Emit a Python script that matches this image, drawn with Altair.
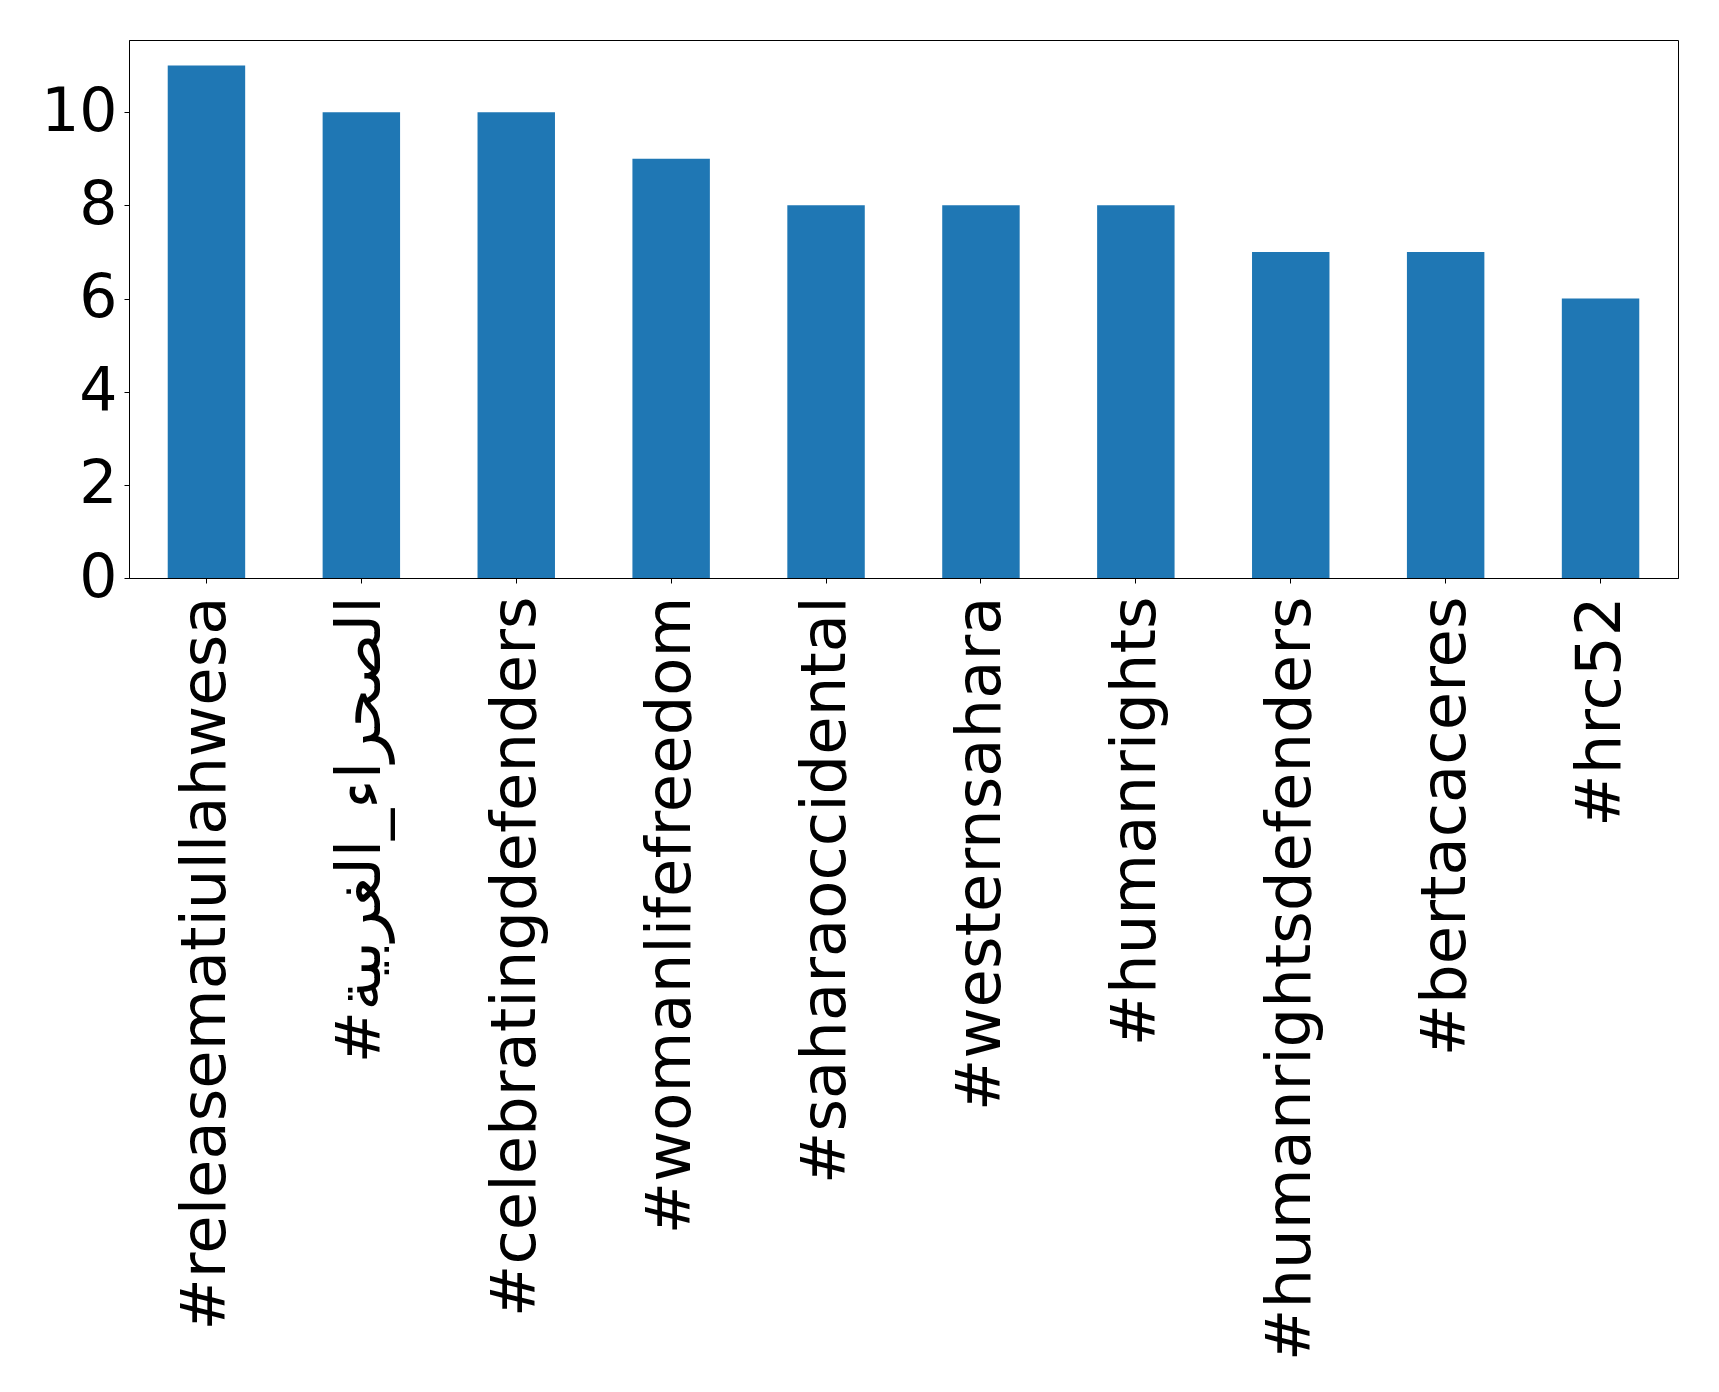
import altair as alt
import pandas as pd

hashtags = [
    "#releasematiullahwesa",
    "#الصحراء_الغربية",
    "#celebratingdefenders",
    "#womanlifefreedom",
    "#saharaoccidental",
    "#westernsahara",
    "#humanrights",
    "#humanrightsdefenders",
    "#bertacaceres",
    "#hrc52",
]
counts = [11, 10, 10, 9, 8, 8, 8, 7, 7, 6]
y_ticks = [0, 2, 4, 6, 8, 10]

df = pd.DataFrame({"tag": hashtags, "count": counts})

chart = (
    alt.Chart(df)
    .mark_bar(color="#1f77b4")
    .encode(
        x=alt.X(
            "tag:N",
            sort=hashtags,
            title=None,
            scale=alt.Scale(paddingInner=0.5, paddingOuter=0.25),
            axis=alt.Axis(
                labelAngle=-90,
                labelAlign="right",
                labelBaseline="middle",
                labelFontSize=62.5,
                labelFont="DejaVu Sans",
                labelColor="black",
                labelPadding=13,
                labelLimit=2000,
                labelOverlap=False,
                tickSize=5,
                tickColor="black",
                domainColor="black",
                grid=False,
            ),
        ),
        y=alt.Y(
            "count:Q",
            title=None,
            scale=alt.Scale(domain=[0, 11.55], nice=False, zero=True),
            axis=alt.Axis(
                values=y_ticks,
                labelFontSize=60,
                labelFont="DejaVu Sans",
                labelColor="black",
                labelPadding=7,
                tickSize=5,
                tickColor="black",
                domainColor="black",
                grid=False,
            ),
        ),
    )
    .properties(
        width=1549,
        height=538,
        autosize=alt.AutoSizeParams(type="none"),
        padding={"left": 121, "top": 32, "right": 33, "bottom": 805},
    )
    .configure(background="white", view=alt.ViewConfig(stroke="black", strokeWidth=1))
)

chart.save("out.html", embed_options={"renderer": "svg", "actions": False})
